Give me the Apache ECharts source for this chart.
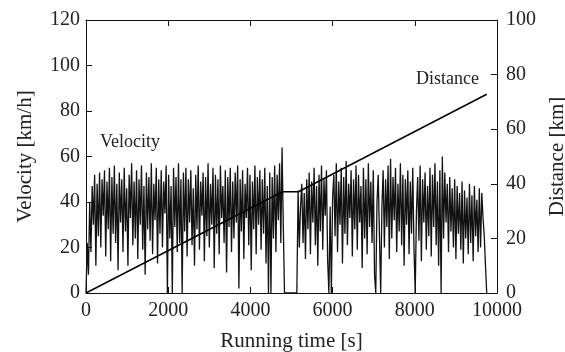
<!DOCTYPE html>
<html>
<head>
<meta charset="utf-8">
<script src="https://cdn.jsdelivr.net/npm/echarts@6/dist/echarts.min.js"></script>
<style>html,body{margin:0;padding:0;background:#fff}#c{width:565px;height:352px}</style>
</head>
<body>
<div id="c"></div>
<script>
// Velocity sampled every 30 s starting at 0 s [km/h]
const velocityStep = 30;
const velocity = [
 0, 22, 8, 40, 18, 47, 30, 52, 12, 48, 25, 53, 20, 50, 34, 54, 16, 49, 28, 55,
 14, 51, 26, 56, 22, 48, 10, 53, 31, 50, 18, 55, 27, 46, 12, 52, 33, 57, 21, 49,
 24, 54, 15, 50, 30, 56, 19, 47, 8, 53, 28, 51, 23, 57, 17, 48, 32, 55, 13, 50,
 26, 54, 20, 49, 35, 56, 0, 52, 24, 47, 0, 55, 29, 51, 18, 57, 22, 50, 0, 53,
 27, 55, 16, 50, 31, 54, 21, 46, 12, 52, 28, 56, 19, 49, 34, 53, 14, 51, 25, 57,
 20, 48, 30, 55, 11, 52, 26, 50, 17, 56, 33, 47, 22, 54, 9, 51, 29, 55, 18, 49,
 24, 53, 31, 56, 2, 50, 27, 54, 15, 48, 33, 55, 21, 52, 10, 49, 28, 56, 17, 51,
 30, 54, 19, 50, 26, 55, 13, 47, 0, 53, 0, 51, 24, 56, 18, 52, 32, 57, 22, 64,
 30, 0, 0, 0, 0, 0, 0, 0, 0, 0, 0, 0, 45, 20, 38, 48, 22, 44, 15, 50,
 28, 53, 17, 49, 31, 55, 21, 47, 12, 52, 27, 56, 19, 50, 34, 54, 14, 0, 38, 0,
 42, 52, 25, 57, 18, 49, 30, 55, 13, 51, 26, 58, 21, 48, 33, 54, 16, 50, 28, 56,
 19, 52, 31, 47, 11, 55, 24, 50, 17, 57, 29, 49, 22, 54, 8, 0, 40, 52, 25, 0,
 38, 54, 20, 50, 29, 56, 15, 59, 24, 51, 32, 55, 18, 48, 27, 57, 21, 52, 12, 50,
 30, 54, 17, 49, 26, 55, 20, 0, 36, 51, 23, 56, 14, 50, 31, 53, 19, 47, 25, 55,
 16, 52, 29, 57, 21, 49, 12, 54, 0, 60, 24, 53, 31, 48, 18, 51, 27, 46, 20, 50,
 15, 47, 26, 44, 19, 49, 13, 45, 24, 42, 17, 48, 22, 43, 14, 47, 25, 41, 18, 46,
 20, 44, 33, 25, 12, 0
];
// Distance [km] breakpoints
const distanceTime = [0, 4780, 5170, 9750];
const distanceKm = [0, 37.1, 37.1, 72.8];

const xTicks = {min: 0, max: 10000, interval: 2000};
const vTicks = {min: 0, max: 120, interval: 20};
const dTicks = {min: 0, max: 100, interval: 20};

const velData = velocity.map((v, i) => [i * velocityStep, v]);
const distData = distanceTime.map((t, i) => [t, distanceKm[i]]);

const FONT = '"Liberation Serif", "Times New Roman", serif';
const TXT = '#222';
const lineStyle = {color: '#111', width: 1};
const plain = v => String(v);

const chart = echarts.init(document.getElementById('c'), null, {renderer: 'canvas'});
chart.setOption({
  animation: false,
  backgroundColor: '#fff',
  textStyle: {fontFamily: FONT, color: TXT},
  grid: {left: 86, right: 68, top: 20, bottom: 59, containLabel: false, outerBoundsMode: 'none'},
  xAxis: [{
    type: 'value', position: 'bottom', ...xTicks,
    name: 'Running time [s]', nameLocation: 'middle', nameGap: 38,
    nameTextStyle: {fontFamily: FONT, fontSize: 21, color: TXT},
    axisLine: {show: true, onZero: false, lineStyle}, axisTick: {show: true, inside: true, length: 6, lineStyle},
    axisLabel: {fontFamily: FONT, fontSize: 20, color: TXT, margin: 8, formatter: plain},
    splitLine: {show: false}
  }, {
    type: 'value', position: 'top', ...xTicks,
    axisLine: {show: true, onZero: false, lineStyle}, axisTick: {show: true, inside: true, length: 6, lineStyle},
    axisLabel: {show: false}, splitLine: {show: false}
  }],
  yAxis: [{
    type: 'value', position: 'left', ...vTicks,
    name: 'Velocity [km/h]', nameLocation: 'middle', nameGap: 50,
    nameTextStyle: {fontFamily: FONT, fontSize: 21, color: TXT},
    axisLine: {show: true, onZero: false, lineStyle}, axisTick: {show: true, inside: true, length: 6, lineStyle},
    axisLabel: {fontFamily: FONT, fontSize: 20, color: TXT, margin: 6, formatter: plain},
    splitLine: {show: false}
  }, {
    type: 'value', position: 'right', ...dTicks,
    name: 'Distance [km]', nameLocation: 'middle', nameGap: 44,
    nameTextStyle: {fontFamily: FONT, fontSize: 21, color: TXT},
    axisLine: {show: true, onZero: false, lineStyle}, axisTick: {show: true, inside: true, length: 6, lineStyle},
    axisLabel: {fontFamily: FONT, fontSize: 20, color: TXT, margin: 9, formatter: plain},
    splitLine: {show: false}
  }],
  graphic: [
    {type: 'text', left: 100, top: 133, style: {text: 'Velocity', font: '18px ' + FONT, fill: TXT}},
    {type: 'text', left: 416, top: 70, style: {text: 'Distance', font: '18px ' + FONT, fill: TXT}}
  ],
  series: [{
    type: 'line', name: 'Velocity', xAxisIndex: 0, yAxisIndex: 0,
    data: velData, showSymbol: false, symbol: 'none',
    lineStyle: {color: '#111', width: 1.3}
  }, {
    type: 'line', name: 'Distance', xAxisIndex: 0, yAxisIndex: 1,
    data: distData, showSymbol: false, symbol: 'none',
    lineStyle: {color: '#000', width: 1.5}
  }]
});
</script>
</body>
</html>
